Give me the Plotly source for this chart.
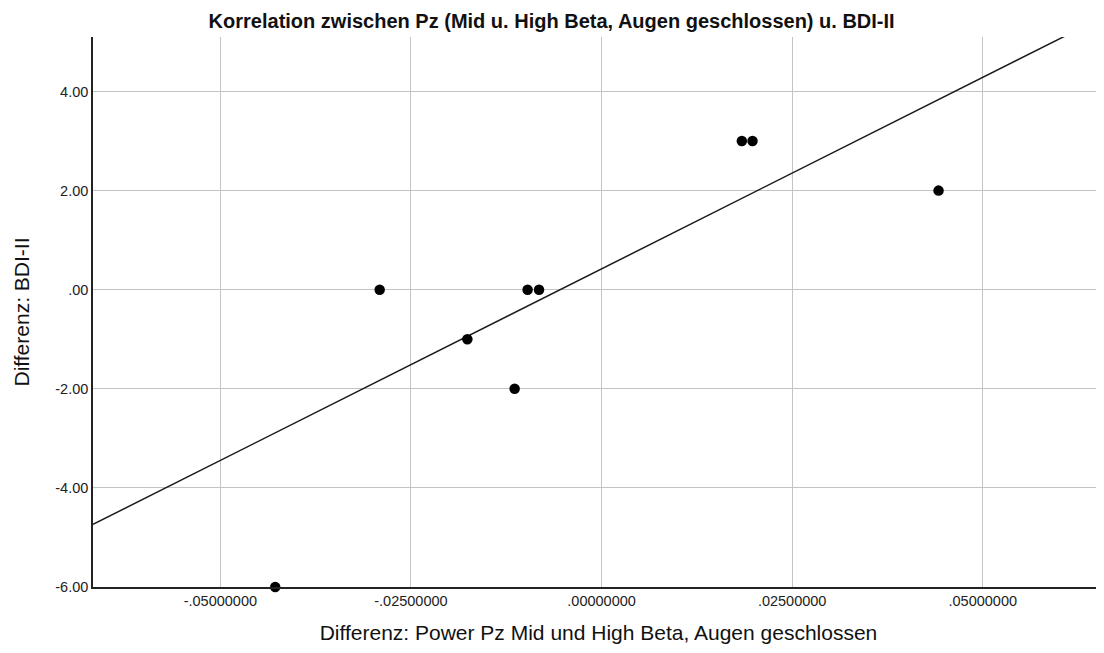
import plotly.graph_objects as go

# Data
power_diff = [-0.0428, -0.0291, -0.0176, -0.0114, -0.0097, -0.0082, 0.0184, 0.0198, 0.0442]
bdi_diff = [-6, 0, -1, -2, 0, 0, 3, 3, 2]

# Fit line coefficients
fit_slope = 77.3
fit_intercept = 0.42

x_tick_vals = [-0.05, -0.025, 0.0, 0.025, 0.05]
x_tick_text = ["-.05000000", "-.02500000", ".00000000", ".02500000", ".05000000"]
y_tick_vals = [-6, -4, -2, 0, 2, 4]
y_tick_text = ["-6.00", "-4.00", "-2.00", ".00", "2.00", "4.00"]

x_range = [-0.0667, 0.0659]
y_range = [-6.0, 5.1]

fit_x = list(x_range)
fit_y = [fit_intercept + fit_slope * v for v in fit_x]

FONT = "Liberation Sans, Arial, sans-serif"

fig = go.Figure()
fig.add_trace(go.Scatter(x=fit_x, y=fit_y, mode="lines",
                         line=dict(color="#1a1a1a", width=1.5),
                         hoverinfo="skip", showlegend=False))
fig.add_trace(go.Scatter(x=power_diff, y=bdi_diff, mode="markers",
                         marker=dict(color="black", size=10.5),
                         cliponaxis=False, showlegend=False))

fig.update_layout(
    width=1096, height=645,
    margin=dict(l=85, r=0, t=29, b=66),
    paper_bgcolor="white", plot_bgcolor="white",
    font=dict(family=FONT, color="#222222"),
    title=dict(text="<b>Korrelation zwischen Pz (Mid u. High Beta, Augen geschlossen) u. BDI-II</b>",
               x=0.496, xref="container", xanchor="center",
               y=0.98, yref="container", yanchor="middle",
               font=dict(size=20, color="#111111")),
    xaxis=dict(range=x_range, tickvals=x_tick_vals, ticktext=x_tick_text,
               showgrid=True, gridcolor="#c4c4c4", gridwidth=1, zeroline=False,
               showline=True, linecolor="#222222", linewidth=1.5,
               ticks="", tickfont=dict(size=14.5, color="#222222"),
               title=dict(text="Differenz: Power Pz Mid und High Beta, Augen geschlossen",
                          font=dict(size=21, color="#111111"), standoff=17)),
    yaxis=dict(range=y_range, tickvals=y_tick_vals, ticktext=y_tick_text,
               showgrid=True, gridcolor="#c4c4c4", gridwidth=1, zeroline=False,
               showline=True, linecolor="#222222", linewidth=1.5,
               ticks="", tickfont=dict(size=14.5, color="#222222"),
               title=dict(text="Differenz: BDI-II",
                          font=dict(size=21, color="#111111"), standoff=20)),
)

fig.write_html("out.html")
